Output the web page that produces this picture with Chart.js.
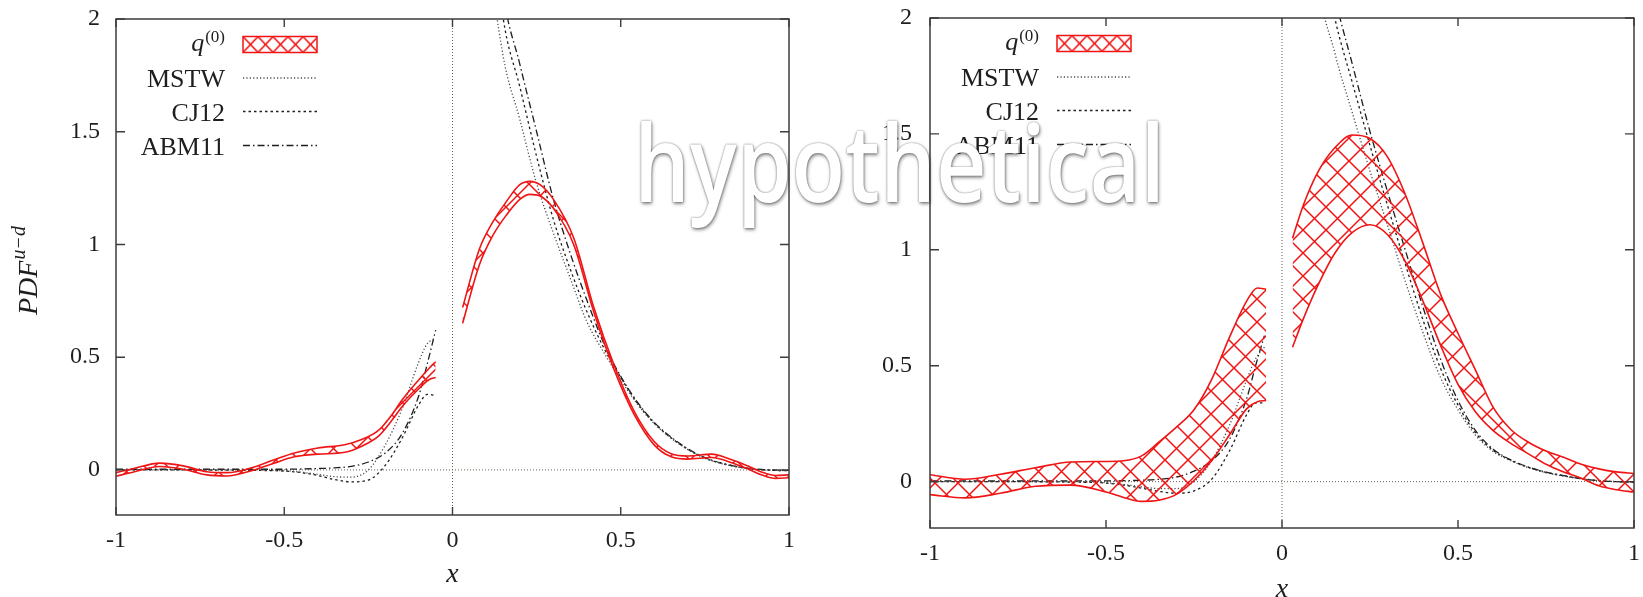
<!DOCTYPE html>
<html>
<head>
<meta charset="utf-8">
<script src="https://cdn.jsdelivr.net/npm/chart.js@4.4.0/dist/chart.umd.min.js"></script>
<style>
  html, body { margin: 0; padding: 0; background: #fff; }
  body { width: 1643px; height: 597px; position: relative; overflow: hidden; }
  .panel { position: absolute; top: 0; height: 597px; }
  #leftBox { left: 0; width: 800px; }
  #rightBox { left: 820px; width: 823px; }
  #stamp {
    position: absolute; left: 634px; top: 108px; z-index: 5;
    font-family: 'Open Sans', sans-serif; font-weight: 600; font-size: 106px; line-height: 1;
    color: #fff; white-space: nowrap; pointer-events: none; transform-origin: 0 0;
    text-shadow: 0 0 2px rgba(0,0,0,0.55), 1px 2px 4px rgba(0,0,0,0.45);
  }
</style>
</head>
<body>
<div class="panel" id="leftBox"><canvas id="leftChart"></canvas></div>
<div class="panel" id="rightBox"><canvas id="rightChart"></canvas></div>
<div id="stamp">hypothetical</div>
<script>
// axis ticks and legend names
const xTicks = [-1, -0.5, 0, 0.5, 1];
const yTicks = [0, 0.5, 1, 1.5, 2];
const seriesNames = ['q(0)', 'MSTW', 'CJ12', 'ABM11'];

// ---- left panel: q(0) band ----
const leftBandXNeg = [-1, -0.95, -0.87, -0.8, -0.73, -0.67, -0.6, -0.53, -0.47, -0.4, -0.32, -0.27, -0.22, -0.18, -0.15, -0.1, -0.07, -0.05];
const leftBandUpNeg = [-0.012, 0.005, 0.03, 0.018, -0.008, -0.012, 0.008, 0.045, 0.075, 0.097, 0.112, 0.135, 0.175, 0.245, 0.31, 0.4, 0.45, 0.48];
const leftBandLoNeg = [-0.028, -0.01, 0.015, 0.003, -0.022, -0.027, -0.005, 0.03, 0.058, 0.07, 0.078, 0.105, 0.15, 0.22, 0.28, 0.36, 0.40, 0.41];
const leftBandXPos = [0.03, 0.08, 0.12, 0.16, 0.2, 0.23, 0.26, 0.3, 0.36, 0.42, 0.48, 0.54, 0.6, 0.65, 0.7, 0.77, 0.83, 0.88, 0.92, 0.96, 1];
const leftBandUpPos = [0.72, 0.98, 1.1, 1.19, 1.265, 1.28, 1.265, 1.2, 1.03, 0.72, 0.465, 0.26, 0.125, 0.072, 0.062, 0.07, 0.045, 0.016, -0.01, -0.025, -0.022];
const leftBandLoPos = [0.65, 0.91, 1.04, 1.13, 1.2, 1.222, 1.215, 1.16, 1.0, 0.70, 0.445, 0.245, 0.11, 0.058, 0.048, 0.055, 0.032, 0.003, -0.023, -0.038, -0.035];

// ---- right panel: q(0) band ----
const rightBandXNeg = [-1, -0.9, -0.8, -0.7, -0.6, -0.5, -0.45, -0.4, -0.35, -0.3, -0.25, -0.2, -0.15, -0.1, -0.07, -0.045];
const rightBandUpNeg = [0.03, 0.01, 0.032, 0.06, 0.085, 0.087, 0.09, 0.11, 0.17, 0.235, 0.31, 0.44, 0.62, 0.78, 0.835, 0.83];
const rightBandLoNeg = [-0.056, -0.07, -0.05, -0.02, -0.015, -0.045, -0.068, -0.085, -0.08, -0.055, 0.005, 0.09, 0.2, 0.315, 0.345, 0.35];
const rightBandXPos = [0.03, 0.06, 0.1, 0.15, 0.2, 0.25, 0.3, 0.35, 0.4, 0.45, 0.5, 0.55, 0.6, 0.65, 0.7, 0.75, 0.8, 0.85, 0.9, 0.95, 1];
const rightBandUpPos = [1.05, 1.19, 1.33, 1.44, 1.495, 1.48, 1.40, 1.24, 1.03, 0.81, 0.64, 0.48, 0.32, 0.225, 0.17, 0.132, 0.105, 0.075, 0.055, 0.042, 0.035];
const rightBandLoPos = [0.58, 0.70, 0.84, 0.985, 1.075, 1.108, 1.065, 0.95, 0.78, 0.59, 0.42, 0.30, 0.22, 0.165, 0.12, 0.075, 0.042, 0.015, -0.018, -0.035, -0.045];

// ---- global PDF sets (x grids shared) ----
const pdfXNeg = [-1, -0.8, -0.6, -0.5, -0.45, -0.4, -0.35, -0.3, -0.25, -0.2, -0.15, -0.1, -0.075, -0.05];
const pdfXPos = [0.05, 0.1, 0.15, 0.2, 0.25, 0.3, 0.35, 0.4, 0.45, 0.5, 0.55, 0.6, 0.65, 0.7, 0.75, 0.8, 0.85, 0.9, 0.95, 1];

const leftMstwNeg = [0, 0, 0, -0.004, -0.01, -0.02, -0.03, -0.032, 0.0, 0.11, 0.27, 0.48, 0.56, 0.58];
const leftCj12Neg = [0, 0, -0.002, -0.005, -0.012, -0.025, -0.043, -0.053, -0.045, 0.02, 0.14, 0.29, 0.335, 0.33];
const leftAbm11Neg = [0.003, 0.003, 0.003, 0.003, 0.004, 0.006, 0.009, 0.016, 0.035, 0.075, 0.16, 0.33, 0.47, 0.62];
const leftMstwPos = [3.3, 2.4, 1.84, 1.555, 1.27, 1.05, 0.85, 0.655, 0.52, 0.40, 0.29, 0.205, 0.14, 0.09, 0.052, 0.028, 0.012, 0.002, -0.002, -0.003];
const leftCj12Pos = [3.6, 2.7, 2.01, 1.7, 1.39, 1.11, 0.89, 0.70, 0.54, 0.41, 0.295, 0.207, 0.142, 0.091, 0.053, 0.029, 0.013, 0.003, -0.002, -0.003];
const leftAbm11Pos = [3.8, 2.85, 2.12, 1.8, 1.5, 1.2, 0.96, 0.75, 0.56, 0.415, 0.30, 0.21, 0.145, 0.093, 0.055, 0.03, 0.014, 0.004, 0, -0.002];

const rightMstwNeg = [0, 0, 0, -0.005, -0.012, -0.022, -0.03, -0.03, 0.0, 0.09, 0.24, 0.44, 0.53, 0.58];
const rightCj12Neg = [0, 0, -0.002, -0.006, -0.015, -0.028, -0.042, -0.05, -0.04, 0.01, 0.13, 0.29, 0.34, 0.34];
const rightAbm11Neg = [0.003, 0.003, 0.003, 0.003, 0.004, 0.006, 0.01, 0.02, 0.045, 0.09, 0.18, 0.36, 0.5, 0.63];
const rightMstwPos = [3.2, 2.2, 1.85, 1.59, 1.34, 1.105, 0.865, 0.645, 0.45, 0.31, 0.2, 0.13, 0.09, 0.06, 0.038, 0.024, 0.012, 0.004, 0, -0.002];
const rightCj12Pos = [3.4, 2.4, 2.0, 1.72, 1.45, 1.19, 0.94, 0.70, 0.49, 0.33, 0.21, 0.135, 0.092, 0.062, 0.04, 0.025, 0.013, 0.004, 0, -0.002];
const rightAbm11Pos = [3.5, 2.45, 2.09, 1.8, 1.51, 1.25, 1.0, 0.755, 0.53, 0.35, 0.22, 0.14, 0.094, 0.063, 0.041, 0.026, 0.013, 0.004, 0, -0.002];

const RED = '#f01414';
const INK = '#1e1e1e';
const SERIF = "'Liberation Serif', 'DejaVu Serif', serif";

function makeHatch(w, h) {
    const c = document.createElement('canvas');
    c.width = w; c.height = h;
    const g = c.getContext('2d');
    g.strokeStyle = RED;
    g.lineWidth = 1.5;
    g.beginPath();
    g.moveTo(-1, -1); g.lineTo(w + 1, h + 1);
    g.moveTo(w + 1, -1); g.lineTo(-1, h + 1);
    g.stroke();
    return g.createPattern(c, 'repeat');
}
const bandHatch = makeHatch(23, 23);
const legendHatch = makeHatch(15, 16);

function pts(xs, ys) {
    return xs.map((x, i) => ({ x: x, y: ys[i] }));
}

const lineStyles = {
    MSTW: { color: '#4a4a4a', dash: [1.2, 2.2], width: 1.3 },
    CJ12: { color: INK, dash: [2.5, 3], width: 1.3 },
    ABM11: { color: INK, dash: [7, 3, 1.5, 3], width: 1.3 }
};

function bandSets(xs, up, lo) {
    return [
        { label: seriesNames[0], data: pts(xs, up), borderColor: RED, borderWidth: 1.6, fill: false },
        { label: seriesNames[0], data: pts(xs, lo), borderColor: RED, borderWidth: 1.6, fill: '-1', backgroundColor: bandHatch }
    ];
}

function pdfSet(name, xs, ys) {
    const s = lineStyles[name];
    return { label: name, data: pts(xs, ys), borderColor: s.color, borderWidth: s.width, borderDash: s.dash, fill: false };
}

// frame, inward ticks, zero lines, legend and titles
const decor = {
    id: 'decor',
    beforeDatasetsDraw(chart) {
        const { ctx, chartArea: a, scales } = chart;
        const x0 = scales.x.getPixelForValue(0);
        const y0 = scales.y.getPixelForValue(0);
        ctx.save();
        ctx.strokeStyle = '#6a6050';
        ctx.lineWidth = 1;
        ctx.setLineDash([1, 2]);
        ctx.beginPath();
        ctx.moveTo(a.left, y0); ctx.lineTo(a.right, y0);
        ctx.moveTo(x0, a.top); ctx.lineTo(x0, a.bottom);
        ctx.stroke();
        ctx.restore();
    },
    afterDraw(chart, args, opts) {
        const { ctx, chartArea: a, scales } = chart;
        ctx.save();
        // frame
        ctx.strokeStyle = '#3c3c3c';
        ctx.lineWidth = 1.5;
        ctx.strokeRect(a.left, a.top, a.right - a.left, a.bottom - a.top);
        // inward ticks
        ctx.lineWidth = 1.4;
        ctx.beginPath();
        xTicks.forEach(v => {
            const px = scales.x.getPixelForValue(v);
            ctx.moveTo(px, a.bottom); ctx.lineTo(px, a.bottom - 8);
            ctx.moveTo(px, a.top); ctx.lineTo(px, a.top + 8);
        });
        yTicks.forEach(v => {
            const py = scales.y.getPixelForValue(v);
            ctx.moveTo(a.left, py); ctx.lineTo(a.left + 9, py);
            ctx.moveTo(a.right, py); ctx.lineTo(a.right - 9, py);
        });
        ctx.stroke();

        // legend
        const labRight = a.left + 109;
        const s0 = a.left + 127, s1 = a.left + 201;
        const rows = [25.5, 59, 92.5, 126.5].map(r => a.top + r);
        ctx.fillStyle = INK;
        ctx.textAlign = 'right';
        ctx.textBaseline = 'alphabetic';
        // q(0)
        ctx.font = '17px ' + SERIF;
        const supW = ctx.measureText('(0)').width;
        ctx.fillText('(0)', labRight, rows[0] - 3);
        ctx.font = 'italic 26px ' + SERIF;
        ctx.fillText('q', labRight - supW - 1, rows[0] + 6);
        ctx.fillStyle = legendHatch;
        legendHatch.setTransform(new DOMMatrix().translateSelf(s0, rows[0] - 8));
        ctx.fillRect(s0, rows[0] - 8, s1 - s0, 16);
        ctx.strokeStyle = RED;
        ctx.lineWidth = 1.5;
        ctx.strokeRect(s0, rows[0] - 8, s1 - s0, 16);
        legendHatch.setTransform(new DOMMatrix());
        // line entries
        ctx.font = '26px ' + SERIF;
        seriesNames.slice(1).forEach((name, i) => {
            const y = rows[i + 1];
            const s = lineStyles[name];
            ctx.fillStyle = INK;
            ctx.fillText(name, labRight, y + 9);
            ctx.strokeStyle = s.color;
            ctx.lineWidth = s.width;
            ctx.setLineDash(s.dash);
            ctx.beginPath();
            ctx.moveTo(s0, y); ctx.lineTo(s1, y);
            ctx.stroke();
            ctx.setLineDash([]);
        });

        // axis titles
        ctx.fillStyle = INK;
        ctx.font = 'italic 28px ' + SERIF;
        ctx.textAlign = 'center';
        ctx.textBaseline = 'middle';
        ctx.fillText('x', (a.left + a.right) / 2, opts.xTitleY);
        if (opts.yTitle) {
            ctx.translate(37, 315);
            ctx.rotate(-Math.PI / 2);
            ctx.textAlign = 'left';
            ctx.textBaseline = 'alphabetic';
            ctx.font = 'italic 28px ' + SERIF;
            ctx.fillText('PDF', 0, 0);
            const w = ctx.measureText('PDF').width;
            ctx.font = 'italic 20px ' + SERIF;
            ctx.fillText('u\u2212d', w + 1, -12);
        }
        ctx.restore();
    }
};

function makePanel(id, cfg) {
    const sets = [].concat(
        bandSets(cfg.bandXNeg, cfg.bandUpNeg, cfg.bandLoNeg),
        bandSets(cfg.bandXPos, cfg.bandUpPos, cfg.bandLoPos),
        pdfSet('MSTW', pdfXNeg, cfg.mstwNeg),
        pdfSet('CJ12', pdfXNeg, cfg.cj12Neg),
        pdfSet('ABM11', pdfXNeg, cfg.abm11Neg),
        pdfSet('MSTW', pdfXPos, cfg.mstwPos),
        pdfSet('CJ12', pdfXPos, cfg.cj12Pos),
        pdfSet('ABM11', pdfXPos, cfg.abm11Pos)
    );
    return new Chart(document.getElementById(id), {
        type: 'line',
        data: { datasets: sets },
        options: {
            responsive: true,
            maintainAspectRatio: false,
            animation: false,
            parsing: false,
            elements: {
                point: { radius: 0, hoverRadius: 0 },
                line: { cubicInterpolationMode: 'monotone' }
            },
            layout: { padding: { top: cfg.padTop, right: cfg.padRight, left: 0, bottom: 0 } },
            plugins: {
                legend: { display: false },
                tooltip: { enabled: false },
                decor: { yTitle: cfg.yTitle, xTitleY: cfg.xTitleY }
            },
            scales: {
                x: {
                    type: 'linear', min: -1, max: 1,
                    grid: { display: false, drawTicks: false },
                    border: { display: false },
                    afterBuildTicks: s => { s.ticks = xTicks.map(v => ({ value: v })); },
                    afterFit: s => { s.height = cfg.xAxisH; s.paddingLeft = 0; s.paddingRight = 0; },
                    ticks: { padding: 11, color: INK, maxRotation: 0, font: { family: SERIF, size: 24 },
                             callback: v => String(v) }
                },
                y: {
                    type: 'linear', min: -0.2, max: 2,
                    grid: { display: false, drawTicks: false },
                    border: { display: false },
                    afterBuildTicks: s => { s.ticks = yTicks.map(v => ({ value: v })); },
                    afterFit: s => { s.width = cfg.yAxisW; s.paddingTop = 0; s.paddingBottom = 0; },
                    ticks: { padding: cfg.yPad, color: INK, font: { family: SERIF, size: 24 },
                             callback: v => String(v) }
                }
            }
        },
        plugins: [decor]
    });
}

makePanel('leftChart', {
    bandXNeg: leftBandXNeg, bandUpNeg: leftBandUpNeg, bandLoNeg: leftBandLoNeg,
    bandXPos: leftBandXPos, bandUpPos: leftBandUpPos, bandLoPos: leftBandLoPos,
    mstwNeg: leftMstwNeg, cj12Neg: leftCj12Neg, abm11Neg: leftAbm11Neg,
    mstwPos: leftMstwPos, cj12Pos: leftCj12Pos, abm11Pos: leftAbm11Pos,
    padTop: 19, padRight: 11, yAxisW: 116, xAxisH: 82, yPad: 16, yTitle: true, xTitleY: 575
});

makePanel('rightChart', {
    bandXNeg: rightBandXNeg, bandUpNeg: rightBandUpNeg, bandLoNeg: rightBandLoNeg,
    bandXPos: rightBandXPos, bandUpPos: rightBandUpPos, bandLoPos: rightBandLoPos,
    mstwNeg: rightMstwNeg, cj12Neg: rightCj12Neg, abm11Neg: rightAbm11Neg,
    mstwPos: rightMstwPos, cj12Pos: rightCj12Pos, abm11Pos: rightAbm11Pos,
    padTop: 18, padRight: 9, yAxisW: 110, xAxisH: 69, yPad: 18, yTitle: false, xTitleY: 590
});

// squeeze the watermark to the width it has in the reference
const stamp = document.getElementById('stamp');
const stampW = stamp.getBoundingClientRect().width;
stamp.style.transform = 'scaleX(' + (531 / stampW) + ')';
</script>
</body>
</html>
